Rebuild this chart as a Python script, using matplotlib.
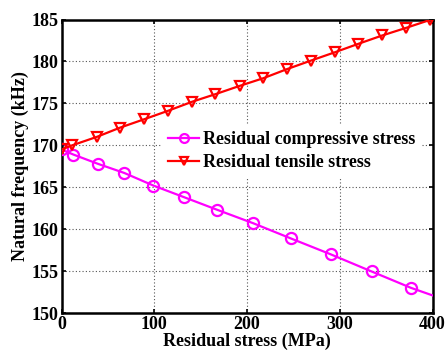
import matplotlib
matplotlib.use("Agg")
import matplotlib.pyplot as plt

# Data
comp_x = [0, 12.7, 39, 67.7, 99, 132.4, 168, 206.8, 247.1, 290.2, 334.4, 376.8, 400]
comp_y = [169.5, 168.9, 167.8, 166.7, 165.2, 163.8, 162.3, 160.7, 158.9, 157.0, 154.95, 153.0, 152.1]
tens_x = [0, 11.6, 38, 63, 89, 114.5, 141, 166, 192.5, 217.6, 243.5, 268.9, 294.9, 320, 345.9, 371.4, 397.3, 400]
tens_y = [169.5, 170.0, 171.0, 172.1, 173.1, 174.1, 175.2, 176.1, 177.1, 178.0, 179.1, 180.1, 181.1, 182.1, 183.1, 184.0, 184.95, 185.0]
labels = ["Residual compressive stress", "Residual tensile stress"]
xticks = [0, 100, 200, 300, 400]
yticks = [150, 155, 160, 165, 170, 175, 180, 185]

plt.rcParams['font.family'] = ['Liberation Serif', 'DejaVu Serif']
plt.rcParams['font.weight'] = 'bold'
fs = 13

fig = plt.figure(figsize=(4.47, 3.54), dpi=100)
ax = fig.add_axes([0.1376, 0.1158, 0.8300, 0.8291])

ax.plot(comp_x, comp_y, color='#ff00ff', lw=1.6, marker='o', ms=8,
        mfc='none', mew=1.6, markevery=list(range(len(comp_x) - 1)),
        label=labels[0], zorder=3)
ax.plot(tens_x, tens_y, color='#ff0000', lw=1.6, marker='v', ms=7.5,
        mfc='none', mew=1.6, markevery=list(range(len(tens_x) - 1)),
        label=labels[1], zorder=4)

ax.set_xlim(0, 400)
ax.set_ylim(150, 185)
ax.set_xticks(xticks)
ax.set_yticks(yticks)
ax.tick_params(direction='in', top=True, right=True, length=3, width=1.2,
               labelsize=fs, pad=2)
for lab in ax.get_xticklabels() + ax.get_yticklabels():
    lab.set_fontweight('bold')
for s in ax.spines.values():
    s.set_linewidth(1.8)
ax.grid(True, linestyle=(0, (1, 2)), color='#555555', lw=0.8)
ax.set_axisbelow(True)

ax.set_xlabel("Residual stress (MPa)", fontsize=fs, fontweight='bold', labelpad=0)
ax.set_ylabel("Natural frequency (kHz)", fontsize=fs, fontweight='bold', labelpad=2)

leg = ax.legend(loc='upper left', bbox_to_anchor=(0.271, 0.64), frameon=True,
                fancybox=False, edgecolor='none', facecolor='white', framealpha=1,
                prop={'size': fs, 'weight': 'bold'}, handlelength=1.7,
                handletextpad=0.2, labelspacing=0.32, borderaxespad=0,
                borderpad=0.35, markerscale=0.8)
leg.set_zorder(5)

fig.savefig("out.png", dpi=100)
